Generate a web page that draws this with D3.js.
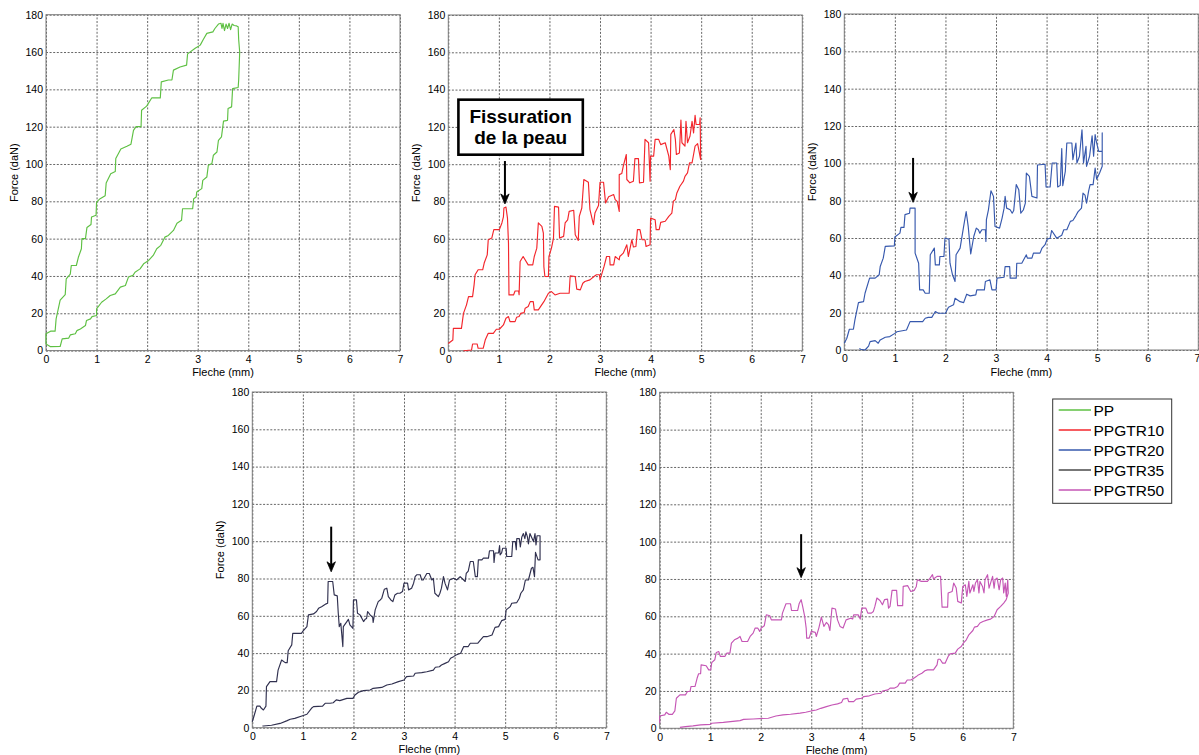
<!DOCTYPE html>
<html><head><meta charset="utf-8">
<script src="https://cdn.jsdelivr.net/npm/d3@7"></script>
<style>
body{margin:0;background:#fff;}
svg{display:block;}
text{font-family:"Liberation Sans",Arial,sans-serif;fill:#000;}
</style></head><body>
<svg id="chart" width="1199" height="755"></svg>
<script>
// ---------------- data ----------------
const seriesNames = ["PP","PPGTR10","PPGTR20","PPGTR35","PPGTR50"];
const seriesColors = ["#5ec043","#f3262c","#3658ad","#30304f","#c556b5"];
const legendColors = ["#5ec043","#f3262c","#3658ad","#4a4a4a","#c556b5"];
const xTicks = [0,1,2,3,4,5,6,7];
const yTicks = [0,20,40,60,80,100,120,140,160,180];
const xLabel = "Fleche (mm)";
const yLabel = "Force (daN)";

const ppCurve = [[0,3.5],[0,9],[0.09,10.4],[0.18,10.4],[0.2,17],[0.28,27],[0.38,30],[0.4,38.5],[0.48,41],[0.5,45.6],[0.6,45.6],[0.64,50],[0.7,54.6],[0.71,60],[0.78,60],[0.81,66],[0.89,67.6],[0.9,71.6],[0.99,72.5],[1.0,79.6],[1.07,81.4],[1.17,83],[1.19,89.8],[1.28,94.8],[1.37,96],[1.38,102.9],[1.48,108],[1.6,109.5],[1.68,110.6],[1.73,118],[1.78,120],[1.88,120],[1.89,128.8],[1.99,131],[2.09,135.4],[2.26,135.4],[2.28,144],[2.42,145],[2.49,145],[2.52,150.3],[2.65,152],[2.78,153],[2.8,159],[2.95,162],[3.05,163.7],[3.11,166.7],[3.18,170],[3.3,170.8],[3.34,172.6],[3.41,175],[3.46,175.4],[3.48,172.6],[3.5,175.4],[3.53,171.5],[3.56,175],[3.59,172.6],[3.62,175.4],[3.65,172],[3.68,175],[3.72,174.2],[3.77,174],[3.8,173.5],[3.81,166.7],[3.83,160],[3.81,145],[3.8,141],[3.69,140.4],[3.67,130.6],[3.6,129.7],[3.59,123.4],[3.51,123],[3.47,114.5],[3.41,112.7],[3.38,106.4],[3.31,104.7],[3.28,100.2],[3.21,99.3],[3.18,93],[3.1,91.2],[3.08,86.8],[2.98,85],[2.97,82.3],[2.92,81.4],[2.9,76],[2.7,76],[2.68,69.8],[2.59,68.3],[2.52,64.4],[2.42,61.7],[2.35,60.8],[2.27,56.4],[2.19,54.6],[2.12,51],[2.03,48.3],[1.93,46.5],[1.86,43.8],[1.76,42],[1.72,40.3],[1.63,39.4],[1.57,34.9],[1.47,34],[1.37,30.4],[1.27,29.5],[1.19,27.7],[1.1,25.9],[1.0,22.4],[1.0,18.8],[0.91,18.2],[0.88,17],[0.8,16.1],[0.78,13.4],[0.68,11.6],[0.61,10.7],[0.58,9],[0.48,8.4],[0.45,6.7],[0.32,6.3],[0.28,2.2],[0.09,2.1],[0,3.5]];

const gtr10Curve = [[0,3.9],[0.09,5.7],[0.1,12],[0.26,12],[0.3,20],[0.36,24.6],[0.4,29],[0.48,29],[0.51,35.3],[0.53,40.7],[0.59,43.4],[0.68,43.4],[0.71,47],[0.77,51.4],[0.79,59.5],[0.86,60.4],[0.9,64.9],[1.01,64.9],[1.06,68.5],[1.09,71.7],[1.1,76.5],[1.14,77],[1.17,71.1],[1.19,57.7],[1.2,29.9],[1.29,29.9],[1.32,32],[1.39,32],[1.4,30],[1.42,47.8],[1.48,50.5],[1.58,46],[1.67,46],[1.7,50.5],[1.75,55],[1.78,68.5],[1.85,66.7],[1.88,63],[1.89,45],[1.91,39.8],[1.98,39.8],[1.99,50.5],[2.04,55],[2.08,60.4],[2.1,77.4],[2.18,77],[2.2,60.4],[2.28,61.3],[2.31,68.5],[2.36,70.2],[2.39,74.7],[2.48,75.3],[2.51,62.2],[2.57,59.1],[2.59,72],[2.64,76.5],[2.68,91.8],[2.77,90.3],[2.8,75.8],[2.87,67.6],[2.9,73.8],[2.97,77.8],[3.0,90.3],[3.07,90.3],[3.09,84.6],[3.11,79.2],[3.17,82.5],[3.27,83.7],[3.3,81],[3.34,80],[3.38,74.7],[3.38,94.4],[3.43,95],[3.46,99],[3.52,105.2],[3.53,91.8],[3.59,90],[3.66,90.9],[3.69,103],[3.76,103],[3.78,90],[3.86,90.3],[3.89,113.3],[3.96,111.5],[3.99,90.9],[4.0,104.3],[4.06,104.3],[4.09,113.3],[4.16,113.3],[4.2,110.5],[4.29,111.5],[4.36,104.3],[4.39,97.1],[4.4,116],[4.46,118.6],[4.49,113.3],[4.51,105.2],[4.57,106],[4.6,123.7],[4.62,111.5],[4.68,109.7],[4.7,123],[4.73,111.5],[4.78,115.1],[4.82,123],[4.85,116.8],[4.88,126.2],[4.9,121.3],[4.97,121.3],[4.98,124.9],[4.99,102.5],[4.93,111],[4.88,109.7],[4.85,105.2],[4.82,100.7],[4.77,100.7],[4.73,95.3],[4.68,93.5],[4.65,90.9],[4.58,88.2],[4.52,84.6],[4.49,81],[4.45,80.1],[4.42,73.8],[4.36,72],[4.29,69.4],[4.2,68.8],[4.17,64.9],[4.11,64.9],[4.09,70.2],[4.0,71.1],[3.99,56.8],[3.91,55.9],[3.89,59.5],[3.83,59.5],[3.79,64.9],[3.74,64.9],[3.71,55.9],[3.66,55.6],[3.63,59.5],[3.56,50.5],[3.53,56.8],[3.46,52.3],[3.39,50.5],[3.38,48.7],[3.3,50.5],[3.27,46],[3.2,46],[3.19,50.5],[3.13,50.5],[3.08,45.2],[3.0,38],[2.99,40.7],[2.93,40.7],[2.88,39.8],[2.8,38],[2.7,37.1],[2.66,36.2],[2.61,32.6],[2.54,33],[2.51,39.8],[2.41,40.1],[2.39,30.8],[2.21,30.8],[2.11,29.9],[2.04,31.7],[1.98,30.8],[1.89,26.3],[1.78,21.9],[1.7,21.9],[1.68,26.3],[1.62,26.3],[1.58,23.7],[1.52,22.8],[1.5,20.4],[1.43,20],[1.4,18.3],[1.35,17.9],[1.32,15.6],[1.22,15.6],[1.19,18.3],[1.14,17.4],[1.09,13.8],[1.01,11.5],[0.95,11.5],[0.89,9.3],[0.79,9.3],[0.73,5.7],[0.69,1.3],[0.59,1.3],[0.57,3.6],[0.48,3.6],[0.46,0.4],[0.3,0]];

const gtr20Curve = [[0,3.6],[0.05,6.3],[0.1,11.1],[0.18,11.1],[0.21,16.1],[0.28,25.4],[0.38,25.9],[0.41,30.4],[0.5,38.5],[0.61,38.5],[0.69,40.3],[0.71,44.7],[0.77,49.2],[0.81,55.5],[0.99,55.8],[1.0,60.5],[1.1,62.6],[1.12,65.7],[1.18,65.7],[1.2,72.5],[1.29,73.3],[1.3,76],[1.4,76],[1.4,51.9],[1.47,46.5],[1.49,32.2],[1.56,32.2],[1.6,30.4],[1.68,30.4],[1.7,51],[1.78,54.6],[1.8,45.6],[1.88,45.6],[1.89,50.1],[1.97,50.1],[1.99,59.9],[2.07,59.4],[2.09,46.5],[2.14,40.3],[2.19,36.7],[2.21,51],[2.29,54.6],[2.36,66.2],[2.41,74.2],[2.45,66.2],[2.5,51.5],[2.56,60.8],[2.61,65.3],[2.65,64.4],[2.68,62.6],[2.72,64.4],[2.79,64.4],[2.8,58.1],[2.81,69.8],[2.85,75.1],[2.9,85.3],[2.95,82.3],[2.98,66.2],[3.07,65.3],[3.12,70.7],[3.16,76],[3.18,82.3],[3.21,76],[3.28,75.1],[3.32,73.3],[3.35,74.7],[3.4,88.6],[3.45,85.9],[3.49,73.3],[3.54,75],[3.58,78.7],[3.6,94.8],[3.66,93],[3.71,82.3],[3.81,81.4],[3.82,99.1],[3.97,99.5],[3.99,87.3],[4.07,87.3],[4.11,100.2],[4.2,100.2],[4.22,87.3],[4.27,88.2],[4.3,107.9],[4.32,88],[4.37,95.7],[4.4,110.9],[4.5,110.9],[4.52,102],[4.58,110.9],[4.6,100.2],[4.65,103.8],[4.7,118],[4.73,100.2],[4.78,109.1],[4.79,98.4],[4.85,103.8],[4.9,114.8],[4.93,103.8],[4.96,115.4],[4.99,110.9],[5.03,106.4],[5.1,106.4],[5.1,116.3],[5.1,98.4],[5.05,95],[4.99,91.5],[4.96,97.5],[4.92,88.6],[4.86,88.6],[4.83,85],[4.79,78.7],[4.76,83],[4.72,84],[4.69,76],[4.62,74],[4.58,72],[4.52,69.4],[4.47,68.9],[4.4,64.4],[4.34,64.4],[4.3,61.5],[4.2,59.9],[4.1,64],[4.07,59.9],[4.01,59.4],[3.97,56.4],[3.91,54.6],[3.87,51.9],[3.74,51.9],[3.71,49.2],[3.62,49.2],[3.6,51],[3.51,46.5],[3.41,46.5],[3.4,38.5],[3.28,38.5],[3.27,44.7],[3.18,44.7],[3.16,39],[3.02,38.5],[3.0,32.2],[2.92,32.2],[2.88,37.6],[2.79,36.7],[2.77,32.2],[2.62,32.2],[2.6,29.5],[2.49,29],[2.42,29.9],[2.36,25.4],[2.29,25.9],[2.19,27.7],[2.16,24.2],[2.06,22.9],[2.0,19.7],[1.86,19.7],[1.8,20.6],[1.73,17.5],[1.66,17.5],[1.6,17],[1.55,15.2],[1.3,15.2],[1.23,10.7],[1.04,9.8],[1.0,8.9],[0.9,7.2],[0.81,6.8],[0.71,5.4],[0.67,3.6],[0.61,5],[0.51,4.5],[0.48,2.1],[0.41,0],[0.32,0.4],[0.3,0.9]];

const gtr35Curve = [[0,3.2],[0.04,6.8],[0.09,11.6],[0.15,11.6],[0.18,10.4],[0.22,9.5],[0.27,11.6],[0.28,22],[0.35,24.7],[0.48,24.7],[0.51,30.9],[0.58,36.3],[0.65,34.9],[0.69,34.9],[0.71,41.3],[0.78,44.4],[0.8,50.6],[0.97,50.6],[1.01,52],[1.08,54.2],[1.11,60.5],[1.21,61],[1.27,62.3],[1.31,64],[1.37,64.9],[1.46,66.4],[1.49,66.7],[1.5,78.4],[1.59,78.4],[1.62,71.2],[1.68,70.7],[1.7,61.4],[1.72,54.2],[1.75,56],[1.79,43.5],[1.8,54.2],[1.87,56.9],[1.9,58.1],[1.93,55.1],[1.99,53.3],[2.0,68.5],[2.06,68.5],[2.08,61.4],[2.13,60.5],[2.2,56.9],[2.23,58.1],[2.26,58.6],[2.28,62.3],[2.33,60.5],[2.38,59.2],[2.39,56.4],[2.43,63.2],[2.49,67.6],[2.53,68.5],[2.56,69.4],[2.61,74.2],[2.66,74.8],[2.69,70.3],[2.74,68.5],[2.78,67.6],[2.82,71.2],[2.87,72.1],[2.92,72.1],[2.97,73],[3.0,77.5],[3.07,77.5],[3.09,73.9],[3.15,74.8],[3.19,77.5],[3.22,81],[3.25,82],[3.32,82],[3.35,79.2],[3.38,79.2],[3.45,82.7],[3.5,82.7],[3.55,79.2],[3.58,80.1],[3.61,72.1],[3.68,70.3],[3.71,72.1],[3.74,74.8],[3.78,81],[3.81,77.5],[3.86,73.9],[3.9,79.2],[3.98,80.1],[4.04,79.2],[4.11,81],[4.18,79.2],[4.21,78.4],[4.23,82.7],[4.27,84],[4.31,89.1],[4.37,89.1],[4.41,81],[4.45,81],[4.47,90],[4.54,90],[4.57,90.9],[4.67,90.9],[4.69,94.9],[4.77,94.9],[4.78,88.6],[4.8,93.7],[4.87,93.7],[4.89,97.6],[4.9,92.7],[4.93,93.7],[4.95,96.2],[5.02,96.2],[5.03,91.8],[5.13,91.8],[5.15,99.8],[5.2,99.8],[5.22,95.4],[5.23,101.4],[5.28,101.4],[5.3,96.9],[5.33,102.3],[5.36,104.1],[5.39,101.4],[5.41,105],[5.44,102.3],[5.46,98.6],[5.49,104.1],[5.52,102.3],[5.56,99.8],[5.59,104.1],[5.61,98],[5.63,102.9],[5.69,102.9],[5.69,90],[5.65,90],[5.6,94],[5.58,81],[5.55,86],[5.52,85.5],[5.46,79.2],[5.4,79.2],[5.36,73.9],[5.31,72.1],[5.28,69.4],[5.23,67.1],[5.13,66.7],[5.1,64.9],[5.02,63.2],[5.0,58.1],[4.93,57.4],[4.87,54.2],[4.8,53.8],[4.74,49.7],[4.64,48.8],[4.57,48.8],[4.51,47],[4.46,45.3],[4.31,45.3],[4.27,43.5],[4.18,43.5],[4.12,39.9],[4.03,39],[3.98,38.1],[3.92,37.2],[3.88,35.4],[3.81,34.5],[3.74,33.6],[3.7,32.7],[3.62,32.4],[3.58,30.9],[3.45,30],[3.35,29.5],[3.22,29.2],[3.19,27.7],[3.05,27.4],[3.0,25.6],[2.89,24.7],[2.76,23.4],[2.66,22.9],[2.56,21.6],[2.39,21.1],[2.33,20.2],[2.2,19.9],[2.1,19],[2.03,17.5],[1.99,15.7],[1.87,15.7],[1.73,14.5],[1.66,14.9],[1.6,13.4],[1.54,13.1],[1.44,13.1],[1.39,11.6],[1.21,11.3],[1.17,10.4],[1.08,7.2],[0.98,6.3],[0.84,5],[0.75,4.5],[0.69,3.8],[0.55,2.3],[0.38,1.3],[0.22,0.9],[0.2,0.9]];

const gtr50Curve = [[0,2.7],[0,6.6],[0.1,7.2],[0.13,8.6],[0.18,7.5],[0.25,7.5],[0.3,9.3],[0.33,16.1],[0.4,17.9],[0.51,17.9],[0.55,19.7],[0.6,19.7],[0.62,22.4],[0.7,22.4],[0.74,26.8],[0.77,29.2],[0.81,29.2],[0.82,34],[0.92,33.5],[0.97,31.3],[1.01,31.3],[1.03,35.2],[1.09,36.7],[1.12,40.6],[1.17,41.1],[1.2,38.5],[1.29,38.5],[1.33,40.3],[1.39,40.3],[1.42,45.6],[1.48,47.4],[1.55,48.3],[1.59,49.2],[1.63,46.5],[1.74,46.5],[1.79,49.2],[1.85,51],[1.89,53.7],[1.94,53.7],[1.98,51.9],[2.01,53.7],[2.07,54.9],[2.11,60.8],[2.18,60.3],[2.21,58.1],[2.41,58.1],[2.43,61.7],[2.5,66.7],[2.59,66.7],[2.61,63.1],[2.73,63.1],[2.76,66.7],[2.8,68.9],[2.83,65.3],[2.87,59.9],[2.9,53.7],[2.91,48.3],[2.96,48.3],[3.0,51.9],[3.08,51.4],[3.1,49.2],[3.15,53.7],[3.2,59.6],[3.25,54.6],[3.3,56.7],[3.34,55.5],[3.37,52.4],[3.41,64.4],[3.48,63.9],[3.52,58.1],[3.57,54.6],[3.63,53.7],[3.69,58.1],[3.78,59],[3.82,58.5],[3.84,60.8],[3.93,60.8],[3.97,58.5],[4.0,64.4],[4.08,64.4],[4.12,61.7],[4.19,61.7],[4.23,62.6],[4.26,65.3],[4.3,69.8],[4.36,68.5],[4.41,66.2],[4.45,68.9],[4.51,69.2],[4.53,64.4],[4.56,65.3],[4.6,73.9],[4.69,73.9],[4.71,65.7],[4.81,65.7],[4.82,76],[4.91,76.4],[4.97,73.3],[5.04,73.9],[5.08,76],[5.1,79.6],[5.18,78.7],[5.3,78.7],[5.34,80],[5.4,82.3],[5.42,80],[5.49,81.4],[5.56,81.4],[5.59,64.9],[5.7,64.9],[5.71,72.5],[5.79,73.3],[5.82,77.8],[5.87,75.1],[5.9,68],[5.97,67.1],[6.0,76],[6.05,76.9],[6.08,70.7],[6.12,78.7],[6.14,72.5],[6.2,76.9],[6.22,73.3],[6.25,77.8],[6.29,79.6],[6.32,72.5],[6.34,78.7],[6.39,76],[6.42,72.5],[6.44,79.6],[6.49,82.3],[6.52,75.1],[6.55,77.8],[6.59,81.4],[6.62,75.1],[6.64,79.6],[6.68,80.5],[6.72,74.2],[6.75,79.6],[6.79,80.5],[6.81,72.5],[6.84,77.8],[6.86,70.7],[6.89,79.6],[6.9,72.5],[6.86,68.9],[6.81,67.1],[6.75,65.3],[6.68,63.5],[6.62,59.9],[6.55,58.5],[6.49,58.1],[6.4,57.2],[6.34,56.4],[6.29,54.6],[6.23,54.2],[6.2,52.4],[6.12,50.1],[6.07,47.4],[6.01,45.6],[5.97,43.8],[5.9,42.4],[5.85,40.3],[5.75,39.9],[5.71,38.5],[5.65,34.9],[5.6,34.9],[5.55,37],[5.51,37],[5.49,34],[5.42,31.3],[5.3,31.3],[5.25,30.8],[5.19,29.5],[5.12,28.6],[5.08,27.7],[5.03,26.8],[4.97,25.9],[4.9,25.9],[4.86,24.2],[4.75,24.2],[4.71,22.4],[4.64,21.5],[4.56,21.5],[4.52,20.6],[4.41,20],[4.38,18.8],[4.26,18.4],[4.15,17.4],[4.04,17],[4.0,16.1],[3.89,15.6],[3.84,14.3],[3.74,14.3],[3.72,16.1],[3.63,15.6],[3.6,13.8],[3.52,13.1],[3.41,12.5],[3.3,11.6],[3.19,10.7],[3.1,9.8],[3.0,9.3],[2.89,8.6],[2.78,8.1],[2.59,7.5],[2.44,7.2],[2.3,6.6],[2.15,5.4],[1.85,5],[1.66,4.8],[1.59,4.1],[1.4,3.6],[1.26,3.2],[1.03,2.7],[1.0,2.1],[0.81,1.8],[0.66,1.3],[0.51,0.9],[0.4,0.5]];

const curves = [ppCurve, gtr10Curve, gtr20Curve, gtr35Curve, gtr50Curve];

// crack arrows (Fleche, Force top, Force tip), per panel
const arrowFleche = [null, 1.12, 1.36, 1.56, 2.8];
const arrowStart  = [null, 101.7, 102.9, 107.8, 104];
const arrowEnd    = [null, 78.7, 79.1, 83.6, 80.7];
const noteLines = ["Fissuration", "de la peau"];
const noteFleche = [0.2, 2.66];
const noteForce = [134.6, 105.1];

// ---------------- layout ----------------
const panels = [
  {l:46,    t:14.7, r:400,    b:350.6, ylab:true},
  {l:448.3, t:15,   r:802.3,  b:350.7, ylab:true},
  {l:844.3, t:14,   r:1198.3, b:350,   ylab:true},
  {l:252.3, t:392,  r:606.3,  b:727.7, ylab:true},
  {l:659.7, t:392.3,r:1013.3, b:728.3, ylab:false}
];

const svg = d3.select("#chart");
svg.append("rect").attr("width",1199).attr("height",755).attr("fill","#fff");

panels.forEach((p, i) => {
  const x = d3.scaleLinear().domain([0,7]).range([p.l, p.r]);
  const y = d3.scaleLinear().domain([0,180]).range([p.b, p.t]);
  const g = svg.append("g");

  // grid
  const gx = g.append("g").attr("transform", `translate(0,${p.b})`)
    .call(d3.axisBottom(x).tickValues(xTicks).tickSize(-(p.b - p.t)).tickFormat(""));
  gx.select(".domain").remove();
  gx.selectAll("line").attr("stroke","#555").attr("stroke-dasharray","2,1.6").attr("stroke-width",0.9);
  const gy = g.append("g").attr("transform", `translate(${p.l},0)`)
    .call(d3.axisLeft(y).tickValues(yTicks).tickSize(-(p.r - p.l)).tickFormat(""));
  gy.select(".domain").remove();
  gy.selectAll("line").attr("stroke","#555").attr("stroke-dasharray","2,1.6").attr("stroke-width",0.9);

  // frame
  g.append("rect").attr("x",p.l).attr("y",p.t).attr("width",p.r-p.l).attr("height",p.b-p.t)
    .attr("fill","none").attr("stroke","#7d7d7d").attr("stroke-width",1);

  // tick labels
  const ax = g.append("g").attr("transform", `translate(0,${p.b})`)
    .call(d3.axisBottom(x).tickValues(xTicks).tickSize(0).tickPadding(5).tickFormat(d3.format("d")));
  ax.select(".domain").remove();
  ax.selectAll("text").attr("font-size",10.5).attr("font-family","Liberation Sans, Arial, sans-serif");
  if (p.r > 1190) {
    // keep the last label inside the window
    ax.selectAll("text").filter(d => d === 7).attr("text-anchor","end").attr("x",1.5);
  }
  const ay = g.append("g").attr("transform", `translate(${p.l},0)`)
    .call(d3.axisLeft(y).tickValues(yTicks).tickSize(0).tickPadding(3).tickFormat(d3.format("d")));
  ay.select(".domain").remove();
  ay.selectAll("text").attr("font-size",10.5).attr("font-family","Liberation Sans, Arial, sans-serif");

  // axis labels
  g.append("text").attr("x",(p.l+p.r)/2).attr("y",p.b+25.5).attr("text-anchor","middle")
    .attr("font-size",11).text(xLabel);
  if (p.ylab) {
    g.append("text").attr("transform",`translate(${p.l-28},${(p.t+p.b)/2-10}) rotate(-90)`)
      .attr("text-anchor","middle").attr("font-size",11).text(yLabel);
  }

  // curve
  const line = d3.line().x(d => x(d[0])).y(d => y(d[1]));
  g.append("path").datum(curves[i]).attr("d", line)
    .attr("fill","none").attr("stroke",seriesColors[i]).attr("stroke-width",1.15)
    .attr("stroke-linejoin","round");

  // arrow
  if (arrowFleche[i] !== null) {
    const ax0 = x(arrowFleche[i]), y0 = y(arrowStart[i]), y1 = y(arrowEnd[i]);
    g.append("line").attr("x1",ax0).attr("x2",ax0).attr("y1",y0).attr("y2",y1-6)
      .attr("stroke","#000").attr("stroke-width",2);
    g.append("path").attr("d",`M${ax0},${y1} L${ax0-4.2},${y1-10} L${ax0},${y1-7} L${ax0+4.2},${y1-10} Z`)
      .attr("fill","#000").attr("stroke","#000").attr("stroke-width",0.8);
  }

  // note box (panel 2)
  if (i === 1) {
    const bx0 = x(noteFleche[0]), bx1 = x(noteFleche[1]);
    const by0 = y(noteForce[0]), by1 = y(noteForce[1]);
    g.append("rect").attr("x",bx0).attr("y",by0).attr("width",bx1-bx0).attr("height",by1-by0)
      .attr("fill","#fff").attr("stroke","#000").attr("stroke-width",2.6);
    noteLines.forEach((s, k) => {
      g.append("text").attr("x",(bx0+bx1)/2).attr("y",by0+23+k*21.6)
        .attr("text-anchor","middle").attr("font-family","Lato, 'Open Sans', sans-serif")
        .attr("font-weight","bold").attr("font-size",19).text(s);
    });
  }
});

// legend
const lg = svg.append("g");
lg.append("rect").attr("x",1052.7).attr("y",399).attr("width",119).attr("height",104.3)
  .attr("fill","#fff").attr("stroke","#333").attr("stroke-width",1);
seriesNames.forEach((n, i) => {
  const yy = 410 + i*20;
  lg.append("line").attr("x1",1058.7).attr("x2",1091).attr("y1",yy).attr("y2",yy)
    .attr("stroke",legendColors[i]).attr("stroke-width",1.6);
  lg.append("text").attr("x",1093.5).attr("y",yy).attr("dy","0.36em")
    .attr("font-size",15.5).text(n);
});
</script>
</body></html>
